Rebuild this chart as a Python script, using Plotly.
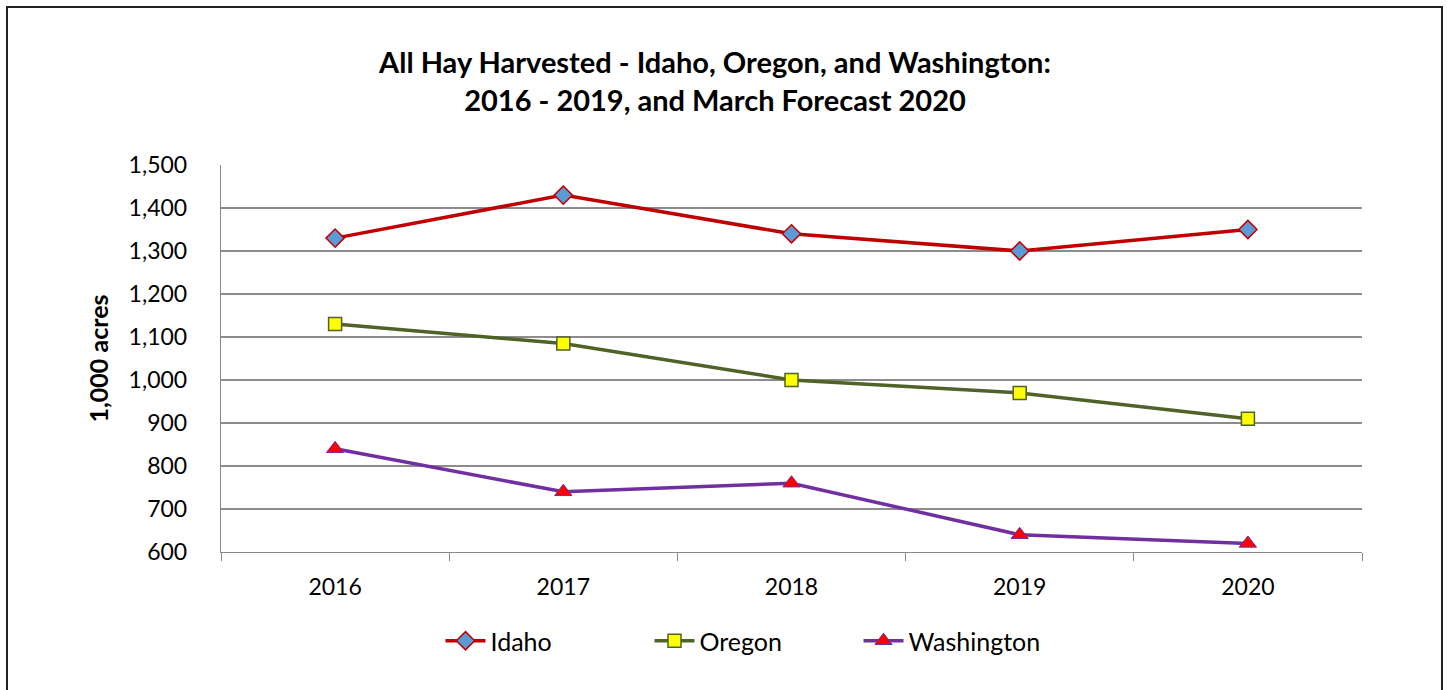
import plotly.graph_objects as go

years = ["2016", "2017", "2018", "2019", "2020"]
idaho = [1330, 1430, 1340, 1300, 1350]
oregon = [1130, 1085, 1000, 970, 910]
washington = [840, 740, 760, 640, 620]
y_ticks = [600, 700, 800, 900, 1000, 1100, 1200, 1300, 1400, 1500]

FONT = "Lato, Calibri, Carlito, sans-serif"

fig = go.Figure()
fig.add_trace(go.Scatter(
    x=years, y=idaho, name="Idaho", mode="lines+markers",
    line=dict(color="#C00000", width=3.5),
    marker=dict(symbol="diamond", size=14, color="#5B9BD5",
                line=dict(color="#C00000", width=1.5))))
fig.add_trace(go.Scatter(
    x=years, y=oregon, name="Oregon", mode="lines+markers",
    line=dict(color="#4F6228", width=3.5),
    marker=dict(symbol="square", size=13, color="#FFFF00",
                line=dict(color="#4F6228", width=1.5))))
fig.add_trace(go.Scatter(
    x=years, y=washington, name="Washington", mode="lines+markers",
    line=dict(color="#7030A0", width=3.5),
    marker=dict(symbol="triangle-up", size=15, color="#FF0000",
                line=dict(color="#7030A0", width=1))))

W, H = 1447, 690
L, R, T, B = 221, 1362, 165, 552
pw, ph = R - L, B - T

fig.update_layout(
    width=W, height=H,
    margin=dict(l=L, r=W - R, t=T, b=H - B),
    paper_bgcolor="white", plot_bgcolor="white",
    font=dict(family=FONT, size=23, color="black"),
    title=dict(
        text="<b>All Hay Harvested - Idaho, Oregon, and Washington:<br>2016 - 2019, and March Forecast 2020</b>",
        x=715 / W, xanchor="center", y=1 - 73 / H, yanchor="middle",
        font=dict(family=FONT, size=29, color="black")),
    showlegend=True,
    legend=dict(orientation="h", x=(754 - L) / pw, xanchor="center",
                y=-(641 - B) / ph, yanchor="middle",
                font=dict(family=FONT, size=25, color="black"),
                itemwidth=40, entrywidth=154, traceorder="normal"),
    xaxis=dict(type="category", range=[-0.5, 4.5], showgrid=False,
               showline=True, linecolor="#888888", linewidth=1.2,
               ticks="outside", tickson="boundaries", ticklen=8,
               tickcolor="#888888", tickfont=dict(size=23, family=FONT),
               ticklabelstandoff=14, fixedrange=True),
    yaxis=dict(range=[600, 1500], tickvals=y_ticks,
               tickformat=",d", showgrid=True, gridcolor="#8C8C8C",
               gridwidth=1.2, showline=True, linecolor="#888888",
               linewidth=1.2, ticks="", ticklabelstandoff=28,
               tickfont=dict(size=23, family=FONT),
               title=dict(text="<b>1,000 acres</b>", standoff=12,
                          font=dict(size=25, family=FONT)),
               zeroline=False, fixedrange=True),
    shapes=[dict(type="rect", xref="paper", yref="paper",
                 x0=(7 - L) / pw, x1=(1442 - L) / pw,
                 y0=(B - 720) / ph, y1=(B - 7) / ph,
                 line=dict(color="#222222", width=2), layer="below")],
)

fig.write_html(
    "out.html",
    config={"displayModeBar": False, "staticPlot": True},
    post_script="document.body.style.margin='0';document.body.style.overflow='hidden';",
)
